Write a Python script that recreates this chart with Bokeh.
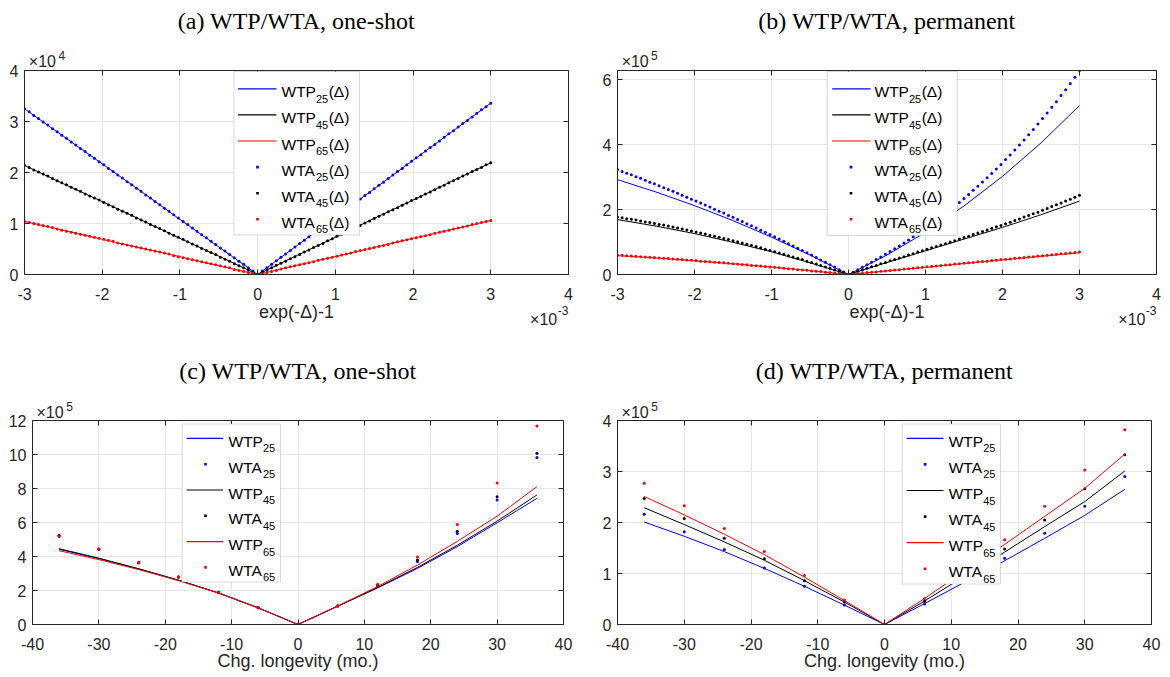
from bokeh.plotting import figure
from bokeh.models import Range1d, FixedTicker, LinearAxis, Label, BoxAnnotation
from bokeh.layouts import column, row
from bokeh.embed import file_html
from bokeh.resources import INLINE

# ---------------- data ----------------
# panels (a),(b): x = exp(-Delta)-1 in units of 1e-3
X_DOTS = [-3.00, -2.94, -2.88, -2.82, -2.76, -2.70, -2.64, -2.58, -2.52, -2.46,
          -2.40, -2.34, -2.28, -2.22, -2.16, -2.10, -2.04, -1.98, -1.92, -1.86,
          -1.80, -1.74, -1.68, -1.62, -1.56, -1.50, -1.44, -1.38, -1.32, -1.26,
          -1.20, -1.14, -1.08, -1.02, -0.96, -0.90, -0.84, -0.78, -0.72, -0.66,
          -0.60, -0.54, -0.48, -0.42, -0.36, -0.30, -0.24, -0.18, -0.12, -0.06,
          0.0,
          0.06, 0.12, 0.18, 0.24, 0.30, 0.36, 0.42, 0.48, 0.54, 0.60,
          0.66, 0.72, 0.78, 0.84, 0.90, 0.96, 1.02, 1.08, 1.14, 1.20,
          1.26, 1.32, 1.38, 1.44, 1.50, 1.56, 1.62, 1.68, 1.74, 1.80,
          1.86, 1.92, 1.98, 2.04, 2.10, 2.16, 2.22, 2.28, 2.34, 2.40,
          2.46, 2.52, 2.58, 2.64, 2.70, 2.76, 2.82, 2.88, 2.94, 3.00]
X_LINE = [-3.0, -2.5, -2.0, -1.5, -1.0, -0.5, 0.0, 0.5, 1.0, 1.5, 2.0, 2.5, 3.0]

# (a) one-shot, units of 1e4
WTA25_A = [3.25, 3.19, 3.12, 3.06, 2.99, 2.93, 2.86, 2.80, 2.73, 2.67,
           2.60, 2.54, 2.47, 2.41, 2.34, 2.28, 2.21, 2.15, 2.08, 2.02,
           1.95, 1.89, 1.82, 1.76, 1.69, 1.63, 1.56, 1.50, 1.43, 1.37,
           1.30, 1.24, 1.17, 1.11, 1.04, 0.98, 0.91, 0.85, 0.78, 0.72,
           0.65, 0.59, 0.52, 0.46, 0.39, 0.33, 0.26, 0.20, 0.13, 0.07,
           0.0,
           0.07, 0.13, 0.20, 0.27, 0.34, 0.40, 0.47, 0.54, 0.61, 0.67,
           0.74, 0.81, 0.87, 0.94, 1.01, 1.08, 1.14, 1.21, 1.28, 1.34,
           1.41, 1.48, 1.55, 1.61, 1.68, 1.75, 1.81, 1.88, 1.95, 2.02,
           2.08, 2.15, 2.22, 2.29, 2.35, 2.42, 2.49, 2.55, 2.62, 2.69,
           2.76, 2.82, 2.89, 2.96, 3.02, 3.09, 3.16, 3.23, 3.29, 3.36]
WTA45_A = [2.14, 2.10, 2.05, 2.01, 1.97, 1.93, 1.88, 1.84, 1.80, 1.76,
           1.71, 1.67, 1.63, 1.58, 1.54, 1.50, 1.46, 1.41, 1.37, 1.33,
           1.28, 1.24, 1.20, 1.16, 1.11, 1.07, 1.03, 0.98, 0.94, 0.90,
           0.86, 0.81, 0.77, 0.73, 0.69, 0.64, 0.60, 0.56, 0.51, 0.47,
           0.43, 0.39, 0.34, 0.30, 0.26, 0.21, 0.17, 0.13, 0.09, 0.04,
           0.0,
           0.04, 0.09, 0.13, 0.18, 0.22, 0.26, 0.31, 0.35, 0.39, 0.44,
           0.48, 0.53, 0.57, 0.61, 0.66, 0.70, 0.75, 0.79, 0.83, 0.88,
           0.92, 0.96, 1.01, 1.05, 1.10, 1.14, 1.18, 1.23, 1.27, 1.31,
           1.36, 1.40, 1.45, 1.49, 1.53, 1.58, 1.62, 1.66, 1.71, 1.75,
           1.80, 1.84, 1.88, 1.93, 1.97, 2.02, 2.06, 2.10, 2.15, 2.19]
WTA65_A = [1.04, 1.02, 1.00, 0.98, 0.96, 0.94, 0.92, 0.89, 0.87, 0.85,
           0.83, 0.81, 0.79, 0.77, 0.75, 0.73, 0.71, 0.69, 0.67, 0.65,
           0.62, 0.60, 0.58, 0.56, 0.54, 0.52, 0.50, 0.48, 0.46, 0.44,
           0.42, 0.40, 0.37, 0.35, 0.33, 0.31, 0.29, 0.27, 0.25, 0.23,
           0.21, 0.19, 0.17, 0.15, 0.13, 0.10, 0.08, 0.06, 0.04, 0.02,
           0.0,
           0.02, 0.04, 0.06, 0.08, 0.11, 0.13, 0.15, 0.17, 0.19, 0.21,
           0.23, 0.25, 0.28, 0.30, 0.32, 0.34, 0.36, 0.38, 0.40, 0.42,
           0.45, 0.47, 0.49, 0.51, 0.53, 0.55, 0.57, 0.59, 0.62, 0.64,
           0.66, 0.68, 0.70, 0.72, 0.74, 0.76, 0.78, 0.81, 0.83, 0.85,
           0.87, 0.89, 0.91, 0.93, 0.95, 0.98, 1.00, 1.02, 1.04, 1.06]
WTP25_A = [3.25, 2.71, 2.17, 1.63, 1.08, 0.54, 0.0, 0.56, 1.12, 1.68, 2.24, 2.80, 3.36]
WTP45_A = [2.14, 1.78, 1.43, 1.07, 0.71, 0.36, 0.0, 0.37, 0.73, 1.10, 1.46, 1.83, 2.19]
WTP65_A = [1.04, 0.87, 0.69, 0.52, 0.35, 0.17, 0.0, 0.18, 0.35, 0.53, 0.71, 0.88, 1.06]

# (b) permanent, units of 1e5
WTA25_B = [3.23, 3.17, 3.12, 3.07, 3.01, 2.96, 2.90, 2.84, 2.79, 2.73,
           2.67, 2.62, 2.56, 2.50, 2.44, 2.38, 2.32, 2.26, 2.20, 2.14,
           2.08, 2.01, 1.95, 1.89, 1.82, 1.76, 1.69, 1.63, 1.56, 1.50,
           1.43, 1.36, 1.30, 1.23, 1.16, 1.09, 1.02, 0.95, 0.88, 0.81,
           0.74, 0.67, 0.60, 0.52, 0.45, 0.38, 0.30, 0.23, 0.15, 0.08,
           0.0,
           0.07, 0.15, 0.22, 0.30, 0.38, 0.46, 0.54, 0.62, 0.71, 0.79,
           0.88, 0.97, 1.06, 1.16, 1.25, 1.35, 1.45, 1.56, 1.66, 1.77,
           1.88, 1.99, 2.11, 2.22, 2.34, 2.46, 2.59, 2.72, 2.85, 2.98,
           3.11, 3.25, 3.39, 3.54, 3.68, 3.83, 3.99, 4.14, 4.30, 4.46,
           4.63, 4.80, 4.97, 5.15, 5.32, 5.51, 5.69, 5.88, 6.07, 6.28]
WTA45_B = [1.77, 1.75, 1.72, 1.70, 1.68, 1.65, 1.62, 1.60, 1.57, 1.54,
           1.52, 1.49, 1.46, 1.43, 1.40, 1.37, 1.34, 1.31, 1.28, 1.25,
           1.21, 1.18, 1.15, 1.11, 1.08, 1.04, 1.01, 0.97, 0.93, 0.90,
           0.86, 0.82, 0.78, 0.74, 0.70, 0.66, 0.62, 0.58, 0.54, 0.50,
           0.46, 0.41, 0.37, 0.32, 0.28, 0.23, 0.19, 0.14, 0.10, 0.05,
           0.0,
           0.05, 0.10, 0.14, 0.19, 0.24, 0.28, 0.33, 0.37, 0.42, 0.46,
           0.51, 0.55, 0.60, 0.64, 0.69, 0.73, 0.78, 0.82, 0.86, 0.91,
           0.95, 1.00, 1.04, 1.09, 1.14, 1.18, 1.23, 1.28, 1.32, 1.37,
           1.42, 1.47, 1.51, 1.56, 1.61, 1.66, 1.71, 1.77, 1.82, 1.87,
           1.92, 1.98, 2.03, 2.09, 2.15, 2.20, 2.26, 2.32, 2.38, 2.44]
WTA65_B = [0.60, 0.59, 0.58, 0.57, 0.56, 0.55, 0.54, 0.53, 0.52, 0.51,
           0.50, 0.49, 0.48, 0.47, 0.46, 0.45, 0.44, 0.43, 0.41, 0.40,
           0.39, 0.38, 0.37, 0.36, 0.35, 0.33, 0.32, 0.31, 0.30, 0.28,
           0.27, 0.26, 0.25, 0.23, 0.22, 0.21, 0.19, 0.18, 0.17, 0.15,
           0.14, 0.13, 0.11, 0.10, 0.09, 0.07, 0.06, 0.04, 0.03, 0.01,
           0.0,
           0.01, 0.03, 0.04, 0.06, 0.07, 0.08, 0.10, 0.11, 0.12, 0.14,
           0.15, 0.17, 0.18, 0.19, 0.21, 0.22, 0.24, 0.25, 0.26, 0.28,
           0.29, 0.30, 0.32, 0.33, 0.35, 0.36, 0.37, 0.39, 0.40, 0.41,
           0.43, 0.44, 0.46, 0.47, 0.48, 0.50, 0.51, 0.52, 0.54, 0.55,
           0.57, 0.58, 0.59, 0.61, 0.62, 0.64, 0.65, 0.66, 0.68, 0.69]
WTP25_B = [2.92, 2.54, 2.12, 1.66, 1.15, 0.60, 0.0, 0.60, 1.30, 2.11, 3.02, 4.05, 5.20]
WTP45_B = [1.69, 1.49, 1.26, 0.99, 0.70, 0.36, 0.0, 0.37, 0.73, 1.09, 1.45, 1.84, 2.26]
WTP65_B = [0.58, 0.51, 0.42, 0.33, 0.23, 0.12, 0.0, 0.11, 0.22, 0.34, 0.45, 0.56, 0.67]

# panels (c),(d): change in longevity, months; values in units of 1e5
MONTHS = [-36, -30, -24, -18, -12, -6, 0, 6, 12, 18, 24, 30, 36]
WTP25_C = [4.42, 3.88, 3.27, 2.60, 1.86, 0.98, 0.0, 1.08, 2.15, 3.30, 4.58, 5.98, 7.42]
WTA25_C = [5.22, 4.43, 3.63, 2.80, 1.89, 0.99, 0.0, 1.09, 2.27, 3.71, 5.35, 7.32, 9.83]
WTP45_C = [4.46, 3.90, 3.28, 2.61, 1.86, 0.98, 0.0, 1.08, 2.18, 3.36, 4.66, 6.08, 7.62]
WTA45_C = [5.25, 4.44, 3.64, 2.80, 1.89, 0.99, 0.0, 1.09, 2.31, 3.79, 5.49, 7.52, 10.08]
WTP65_C = [4.34, 3.82, 3.23, 2.58, 1.85, 0.98, 0.0, 1.09, 2.23, 3.50, 4.89, 6.37, 8.11]
WTA65_C = [5.17, 4.42, 3.62, 2.79, 1.89, 0.99, 0.0, 1.10, 2.37, 3.97, 5.88, 8.33, 11.68]

WTP25_D = [2.01, 1.73, 1.43, 1.10, 0.75, 0.38, 0.0, 0.41, 0.83, 1.25, 1.69, 2.14, 2.65]
WTA25_D = [2.16, 1.82, 1.47, 1.11, 0.75, 0.38, 0.0, 0.40, 0.83, 1.30, 1.79, 2.32, 2.90]
WTP45_D = [2.29, 1.96, 1.62, 1.26, 0.86, 0.44, 0.0, 0.46, 0.95, 1.42, 1.92, 2.41, 3.01]
WTA45_D = [2.47, 2.08, 1.69, 1.29, 0.86, 0.44, 0.0, 0.455, 0.95, 1.48, 2.05, 2.66, 3.33]
WTP65_D = [2.51, 2.15, 1.77, 1.37, 0.93, 0.47, 0.0, 0.51, 1.05, 1.57, 2.12, 2.67, 3.34]
WTA65_D = [2.77, 2.33, 1.88, 1.43, 0.96, 0.48, 0.0, 0.51, 1.06, 1.66, 2.32, 3.03, 3.82]

for _s in (WTA25_A, WTA45_A, WTA65_A, WTA25_B, WTA45_B, WTA65_B):
    assert len(_s) == len(X_DOTS), len(_s)

TITLES = ["(a) WTP/WTA, one-shot", "(b) WTP/WTA, permanent",
          "(c) WTP/WTA, one-shot", "(d) WTP/WTA, permanent"]
XLABEL_TOP = "exp(-\u0394)-1"
XLABEL_BOT = "Chg. longevity (mo.)"
TIMES10 = "\u00d710"
AGES = ["25", "45", "65"]

# ---------------- style ----------------
SANS = "Liberation Sans"
SERIF = "Liberation Serif"
AX = "#262626"
GRID = "#e6e6e6"
COLORS = ["#0000ff", "#000000", "#ff0000"]
TICK_PX = 16
LAB_PX = 18
EXP_PX = 12
LEG_PX = 15.5
SUB_PX = 11
TITLE_PX = 24

EM = {"W": .944, "T": .611, "P": .667, "A": .667, "(": .333, ")": .333, "\u0394": .668}


def tw(s, size):
    return sum(EM.get(c, .556) for c in s) * size


def style_axis(ax, ticks, labels):
    ax.ticker = FixedTicker(ticks=ticks)
    ax.major_tick_in = 5
    ax.major_tick_out = 0
    ax.minor_tick_line_color = None
    ax.axis_line_color = AX
    ax.major_tick_line_color = AX
    ax.major_label_text_font = SANS
    ax.major_label_text_color = AX
    if labels:
        ax.major_label_text_font_size = f"{TICK_PX}px"
        ax.major_label_overrides = {t: str(t) for t in ticks}
    else:
        ax.major_label_text_font_size = "0px"
        ax.major_label_overrides = {t: "" for t in ticks}
        ax.major_label_standoff = 0


def text_axis(p, side, pos, text, font, size, color, standoff):
    """A bare axis that only carries one text (title, axis name, scale factor)."""
    ax = LinearAxis(ticker=FixedTicker(ticks=[pos]), major_label_overrides={pos: text},
                    axis_line_color=None, major_tick_line_color=None, minor_tick_line_color=None,
                    major_tick_in=0, major_tick_out=0, major_label_standoff=standoff,
                    major_label_text_font=font, major_label_text_font_size=f"{size}px",
                    major_label_text_color=color)
    p.add_layout(ax, side)


def make_panel(origin, size, frame, xr, yr, xt, yt):
    ox, oy = origin
    W, H = size
    fl, fr, ft, fb = frame
    p = figure(width=W, height=H, x_range=Range1d(*xr), y_range=Range1d(*yr),
               output_backend="svg", toolbar_location=None, title=None,
               min_border_left=fl - ox, min_border_right=ox + W - fr,
               min_border_top=ft - oy, min_border_bottom=oy + H - fb,
               background_fill_color="white", border_fill_color="white",
               outline_line_color=None)
    style_axis(p.xaxis[0], xt, True)
    style_axis(p.yaxis[0], yt, True)
    p.xaxis[0].major_label_standoff = 13
    p.yaxis[0].major_label_standoff = 6
    top = LinearAxis()
    style_axis(top, xt, False)
    p.add_layout(top, "above")
    right = LinearAxis()
    style_axis(right, yt, False)
    p.add_layout(right, "right")
    p.xgrid.ticker = FixedTicker(ticks=xt)
    p.ygrid.ticker = FixedTicker(ticks=yt)
    p.grid.grid_line_color = GRID
    p.grid.grid_line_width = 1
    return p


def put(p, frame, x, y, text, size, font=SANS, align="left", baseline="alphabetic", color=AX):
    fl, fr, ft, fb = frame
    p.add_layout(Label(x=x - fl, y=fb - y, x_units="screen", y_units="screen", text=text,
                       text_font=font, text_font_size=f"{size}px", text_align=align,
                       text_baseline=baseline, text_color=color))


def sbox(p, frame, l, t, r, b, fill, line=None):
    fl, fr, ft, fb = frame
    p.add_layout(BoxAnnotation(left=l - fl, right=r - fl, top=fb - t, bottom=fb - b,
                               left_units="screen", right_units="screen",
                               top_units="screen", bottom_units="screen",
                               fill_color=fill, fill_alpha=1.0,
                               line_color=line, line_width=1, level="annotation"))


def legend(p, frame, box, y0, dy, lx0, lx1, dotx, textx, entries, suffix):
    l, t, r, b = box
    sbox(p, frame, l, t, r, b, "white", "#7f7f7f")
    for i, (kind, color, main, sub) in enumerate(entries):
        yc = y0 + i * dy
        if kind == "line":
            sbox(p, frame, lx0, yc - 0.6, lx1, yc + 0.6, color)
        else:
            sbox(p, frame, dotx - 1.3, yc - 1.3, dotx + 1.3, yc + 1.3, color)
        base = yc + 3.0
        put(p, frame, textx, base, main, LEG_PX, color="#000000")
        x2 = textx + tw(main, LEG_PX)
        put(p, frame, x2, base + 7.0, sub, SUB_PX, color="#000000")
        if suffix:
            put(p, frame, x2 + tw(sub, SUB_PX) + 0.5, base, suffix, LEG_PX, color="#000000")


XT_AB = [-3, -2, -1, 0, 1, 2, 3, 4]
XT_CD = [-40, -30, -20, -10, 0, 10, 20, 30, 40]

# ---------------- panel (a) ----------------
FA = (24, 568, 70, 274)
pa = make_panel((0, 0), (582, 340), FA, (-3, 4), (0, 4), XT_AB, [0, 1, 2, 3, 4])
for ys, c in zip([WTP25_A, WTP45_A, WTP65_A], COLORS):
    pa.line(X_LINE, ys, line_color=c, line_width=1)
for ys, c in zip([WTA25_A, WTA45_A, WTA65_A], COLORS):
    pa.scatter(X_DOTS, ys, size=3, color=c, marker="circle", line_color=None)

# ---------------- panel (b) ----------------
FB = (617, 1156, 70, 274)
pb = make_panel((582, 0), (588, 340), FB, (-3, 4), (0, 6.28), XT_AB, [0, 2, 4, 6])
for ys, c in zip([WTP25_B, WTP45_B, WTP65_B], COLORS):
    pb.line(X_LINE, ys, line_color=c, line_width=1)
for ys, c in zip([WTA25_B, WTA45_B, WTA65_B], COLORS):
    pb.scatter(X_DOTS, ys, size=3, color=c, marker="circle", line_color=None)

# ---------------- panel (c) ----------------
FC = (32, 563, 420, 624)
pc = make_panel((0, 340), (582, 337), FC, (-40, 40), (0, 12), XT_CD, [0, 2, 4, 6, 8, 10, 12])
for wtp, wta, c in zip([WTP25_C, WTP45_C, WTP65_C], [WTA25_C, WTA45_C, WTA65_C], COLORS):
    pc.line(MONTHS, wtp, line_color=c, line_width=1)
    pc.scatter(MONTHS, wta, size=3, color=c, marker="circle", line_color=None)

# ---------------- panel (d) ----------------
FD = (617, 1151, 420, 624)
pd_ = make_panel((582, 340), (588, 337), FD, (-40, 40), (0, 4), XT_CD, [0, 1, 2, 3, 4])
for wtp, wta, c in zip([WTP25_D, WTP45_D, WTP65_D], [WTA25_D, WTA45_D, WTA65_D], COLORS):
    pd_.line(MONTHS, wtp, line_color=c, line_width=1)
    pd_.scatter(MONTHS, wta, size=3, color=c, marker="circle", line_color=None)

# ---------------- outer texts: scale factors, titles, axis names ----------------
# above stack = [ticks, "x10", exponent, title]; below = [ticks, exponent, name, "x10"]
for p, title, exp_top in [(pa, TITLES[0], "4"), (pb, TITLES[1], "5")]:
    text_axis(p, "above", -2.77, TIMES10, SANS, TICK_PX, AX, 1)
    text_axis(p, "above", -2.52, exp_top, SANS, EXP_PX, AX, -10)
    text_axis(p, "above", 0.5, title, SERIF, TITLE_PX, "#000000", 14)
    text_axis(p, "below", 3.93, "-3", SANS, EXP_PX, AX, 3)
    text_axis(p, "below", 0.5, XLABEL_TOP, SANS, LAB_PX, AX, -16)
    text_axis(p, "below", 3.68, TIMES10, SANS, TICK_PX, AX, -14)

for p, title, xs, es in [(pc, TITLES[2], -37.35, -34.43), (pd_, TITLES[3], -37.36, -34.46)]:
    text_axis(p, "above", xs, TIMES10, SANS, TICK_PX, AX, 0)
    text_axis(p, "above", es, "5", SANS, EXP_PX, AX, -10)
    text_axis(p, "above", 0, title, SERIF, TITLE_PX, "#000000", 15)
    text_axis(p, "below", 0, XLABEL_BOT, SANS, LAB_PX, AX, -2)

# ---------------- legends ----------------
ENT_AB = [("line", COLORS[0], "WTP", AGES[0]), ("line", COLORS[1], "WTP", AGES[1]),
          ("line", COLORS[2], "WTP", AGES[2]), ("dot", COLORS[0], "WTA", AGES[0]),
          ("dot", COLORS[1], "WTA", AGES[1]), ("dot", COLORS[2], "WTA", AGES[2])]
ENT_CD = [("line", COLORS[0], "WTP", AGES[0]), ("dot", COLORS[0], "WTA", AGES[0]),
          ("line", COLORS[1], "WTP", AGES[1]), ("dot", COLORS[1], "WTA", AGES[1]),
          ("line", COLORS[2], "WTP", AGES[2]), ("dot", COLORS[2], "WTA", AGES[2])]

legend(pa, FA, (233.5, 71, 359, 234.5), 88.3, 26.1, 237.5, 276, 257, 281, ENT_AB, "(\u0394)")
legend(pb, FB, (826.7, 71, 956.7, 235), 88.3, 26.1, 831.7, 870, 850.5, 874, ENT_AB, "(\u0394)")
legend(pc, FC, (181.6, 423.5, 280, 581.5), 437.9, 25.8, 186.1, 222.5, 205, 228, ENT_CD, "")
legend(pd_, FD, (901.6, 423.5, 1000, 583.5), 437.8, 26.1, 906.1, 943, 924.6, 948.2, ENT_CD, "")

layout = column(row(pa, pb), row(pc, pd_))
open("out.html", "w").write(file_html(layout, INLINE))
